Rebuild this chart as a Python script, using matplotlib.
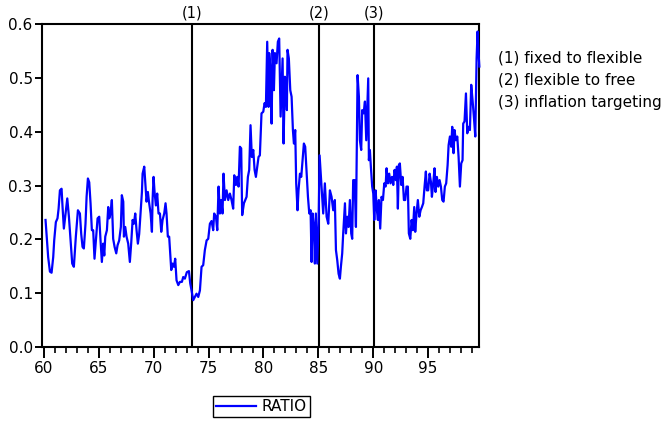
import matplotlib.pyplot as plt
import numpy as np
from matplotlib.ticker import MultipleLocator, FormatStrFormatter

plt.rcParams['font.family'] = ['DejaVu Sans']

# ratio series (year in two-digit form, value)
t_fixed = [60.15, 60.24, 60.39, 60.55, 60.70, 60.85, 60.94, 61.09, 61.24, 61.34,
           61.46, 61.61, 61.70, 61.82, 61.97, 62.13, 62.28, 62.43, 62.58, 62.73,
           62.91, 63.10, 63.28, 63.40, 63.52, 63.64, 63.79, 63.89, 64.01, 64.13,
           64.25, 64.37, 64.49, 64.61, 64.74, 64.89, 65.04, 65.16, 65.28, 65.40,
           65.50, 65.59, 65.74, 65.86, 65.95, 66.07, 66.19, 66.31, 66.44, 66.59,
           66.71, 66.86, 67.01, 67.10, 67.23, 67.29, 67.41, 67.53, 67.68, 67.83,
           67.95, 68.08, 68.20, 68.32, 68.44, 68.56, 68.68, 68.80, 68.93, 68.99,
           69.14, 69.26, 69.35, 69.47, 69.59, 69.72, 69.84, 69.90, 69.99, 70.08,
           70.20, 70.32, 70.44, 70.57, 70.69, 70.81, 70.96, 71.08, 71.17, 71.29,
           71.41, 71.51, 71.60, 71.72, 71.84, 71.96, 72.08, 72.24, 72.39, 72.57,
           72.69, 72.84, 73.02, 73.21, 73.33, 73.45]
r_fixed = [0.236, 0.210, 0.167, 0.140, 0.138, 0.167, 0.198, 0.232, 0.239, 0.257,
           0.291, 0.294, 0.260, 0.220, 0.248, 0.276, 0.242, 0.198, 0.155, 0.149,
           0.205, 0.254, 0.248, 0.210, 0.186, 0.183, 0.229, 0.279, 0.313, 0.306,
           0.267, 0.217, 0.217, 0.164, 0.198, 0.239, 0.242, 0.198, 0.158, 0.192,
           0.170, 0.205, 0.217, 0.260, 0.239, 0.248, 0.273, 0.201, 0.186, 0.174,
           0.189, 0.198, 0.223, 0.282, 0.270, 0.205, 0.223, 0.205, 0.192, 0.158,
           0.192, 0.236, 0.229, 0.248, 0.217, 0.192, 0.210, 0.248, 0.288, 0.322,
           0.335, 0.298, 0.270, 0.288, 0.267, 0.248, 0.214, 0.273, 0.316, 0.288,
           0.263, 0.285, 0.248, 0.248, 0.214, 0.236, 0.248, 0.267, 0.248, 0.205,
           0.205, 0.174, 0.143, 0.155, 0.149, 0.164, 0.124, 0.115, 0.121, 0.121,
           0.130, 0.127, 0.139, 0.141, 0.118, 0.105]

t_flex = [73.60, 73.75, 73.90, 74.06, 74.21, 74.36, 74.51, 74.66, 74.82, 74.97,
          75.12, 75.27, 75.42, 75.51, 75.67, 75.79, 75.91, 76.03, 76.15, 76.27,
          76.36, 76.49, 76.64, 76.79, 76.94, 77.09, 77.24, 77.34, 77.49, 77.61,
          77.73, 77.85, 77.97, 78.06, 78.22, 78.34, 78.46, 78.58, 78.70, 78.82,
          78.94, 79.07, 79.19, 79.31, 79.43, 79.55, 79.67, 79.82, 79.98, 80.10,
          80.22, 80.34, 80.46, 80.52, 80.64, 80.74, 80.83, 80.95, 81.04, 81.19,
          81.31, 81.43, 81.56, 81.65, 81.74, 81.83, 81.95, 82.07, 82.13, 82.19,
          82.31, 82.44, 82.56, 82.68, 82.77, 82.89, 82.98, 83.10, 83.19, 83.32,
          83.44, 83.56, 83.68, 83.80, 83.92, 84.05, 84.17, 84.29, 84.38, 84.47,
          84.59, 84.68, 84.77, 84.90, 85.02]
r_flex = [0.087, 0.093, 0.099, 0.093, 0.105, 0.149, 0.152, 0.180, 0.198, 0.201,
          0.229, 0.234, 0.217, 0.248, 0.242, 0.217, 0.298, 0.248, 0.273, 0.248,
          0.322, 0.273, 0.291, 0.273, 0.285, 0.273, 0.257, 0.319, 0.301, 0.316,
          0.298, 0.372, 0.369, 0.245, 0.267, 0.273, 0.279, 0.316, 0.329, 0.412,
          0.353, 0.366, 0.329, 0.316, 0.335, 0.353, 0.356, 0.434, 0.437, 0.453,
          0.446, 0.567, 0.446, 0.546, 0.515, 0.415, 0.552, 0.477, 0.546, 0.527,
          0.567, 0.573, 0.428, 0.483, 0.536, 0.378, 0.502, 0.483, 0.440, 0.552,
          0.536, 0.477, 0.465, 0.403, 0.378, 0.403, 0.304, 0.254, 0.291, 0.322,
          0.316, 0.347, 0.378, 0.372, 0.329, 0.279, 0.248, 0.254, 0.158, 0.248,
          0.223, 0.155, 0.248, 0.155, 0.229]

t_free = [85.11, 85.29, 85.44, 85.59, 85.75, 85.90, 86.05, 86.20, 86.35, 86.50,
          86.60, 86.72, 86.84, 86.96, 87.05, 87.17, 87.26, 87.42, 87.51, 87.63,
          87.75, 87.87, 87.99, 88.08, 88.17, 88.30, 88.42, 88.57, 88.69, 88.78,
          88.90, 88.99, 89.12, 89.24, 89.36, 89.54, 89.60, 89.69, 89.78, 89.90,
          90.00]
r_free = [0.356, 0.298, 0.248, 0.304, 0.242, 0.229, 0.291, 0.279, 0.254, 0.273,
          0.180, 0.161, 0.136, 0.127, 0.149, 0.174, 0.211, 0.267, 0.211, 0.242,
          0.223, 0.273, 0.211, 0.201, 0.310, 0.310, 0.223, 0.505, 0.465, 0.384,
          0.366, 0.440, 0.434, 0.456, 0.384, 0.499, 0.347, 0.366, 0.335, 0.298,
          0.285]

t_target = [90.09, 90.21, 90.33, 90.42, 90.51, 90.63, 90.75, 90.88, 91.00, 91.12,
            91.21, 91.33, 91.45, 91.57, 91.70, 91.82, 91.94, 92.06, 92.15, 92.24,
            92.33, 92.42, 92.55, 92.67, 92.79, 92.91, 93.03, 93.15, 93.24, 93.37,
            93.49, 93.61, 93.73, 93.82, 93.94, 94.06, 94.19, 94.31, 94.43, 94.55,
            94.67, 94.79, 94.88, 95.00, 95.13, 95.25, 95.34, 95.46, 95.58, 95.67,
            95.79, 95.92, 96.04, 96.16, 96.28, 96.40, 96.52, 96.64, 96.77, 96.86,
            96.98, 97.10, 97.19, 97.31, 97.40, 97.52, 97.65, 97.77, 97.89, 98.01,
            98.13, 98.19, 98.31, 98.44, 98.56, 98.68, 98.80, 98.92, 99.04, 99.16,
            99.29, 99.41, 99.50, 99.58, 99.66]
r_target = [0.236, 0.291, 0.254, 0.236, 0.273, 0.220, 0.279, 0.273, 0.304, 0.298,
            0.332, 0.304, 0.322, 0.304, 0.316, 0.301, 0.329, 0.310, 0.335, 0.257,
            0.338, 0.341, 0.301, 0.316, 0.273, 0.273, 0.298, 0.298, 0.211, 0.201,
            0.236, 0.217, 0.260, 0.214, 0.248, 0.273, 0.242, 0.254, 0.260, 0.267,
            0.298, 0.326, 0.291, 0.291, 0.322, 0.307, 0.279, 0.304, 0.332, 0.288,
            0.316, 0.298, 0.310, 0.298, 0.273, 0.270, 0.298, 0.304, 0.338, 0.375,
            0.391, 0.372, 0.409, 0.360, 0.403, 0.384, 0.391, 0.353, 0.298, 0.341,
            0.347, 0.415, 0.419, 0.471, 0.397, 0.409, 0.403, 0.487, 0.459, 0.428,
            0.391, 0.536, 0.586, 0.549, 0.521]

breaks = [73.53, 85.05, 90.08]
break_labels = ['(1)', '(2)', '(3)']
notes = ['(1) fixed to flexible', '(2) flexible to free', '(3) inflation targeting']

years = np.array(t_fixed + t_flex + t_free + t_target)
ratio = np.array(r_fixed + r_flex + r_free + r_target)

fig = plt.figure(figsize=(6.67, 4.26), dpi=100)
ax = fig.add_axes([0.0625, 0.1854, 0.6555, 0.7583])

ax.plot(years, ratio, color='#0000ff', lw=1.6, label='RATIO', clip_on=False, zorder=3)
for b, lab in zip(breaks, break_labels):
    ax.axvline(b, color='black', lw=1.5, zorder=2)
    ax.text(b, 0.607, lab, ha='center', va='bottom', fontsize=10.5)

ax.set_xlim(59.8, 99.62)
ax.set_ylim(0, 0.6)
ax.xaxis.set_major_locator(MultipleLocator(5))
ax.xaxis.set_minor_locator(MultipleLocator(1))
ax.yaxis.set_major_locator(MultipleLocator(0.1))
ax.yaxis.set_major_formatter(FormatStrFormatter('%.1f'))
ax.tick_params(axis='x', which='major', direction='out', length=8, width=1.4, labelsize=11, pad=2)
ax.tick_params(axis='x', which='minor', direction='out', length=4.5, width=1.2)
ax.tick_params(axis='y', direction='out', length=5, width=1.4, labelsize=11, pad=1.5)
for s in ax.spines.values():
    s.set_linewidth(1.5)

for i, n in enumerate(notes):
    fig.text(0.7466, 1 - (58 + 22 * i) / 426, n, ha='left', va='center', fontsize=11)

fig.legend(loc='center', bbox_to_anchor=(0.392, 0.045), frameon=True, fancybox=False,
           edgecolor='black', framealpha=1, fontsize=11, handlelength=2.6,
           borderpad=0.2, handletextpad=0.4, borderaxespad=0)

fig.savefig('out.png', dpi=100)
